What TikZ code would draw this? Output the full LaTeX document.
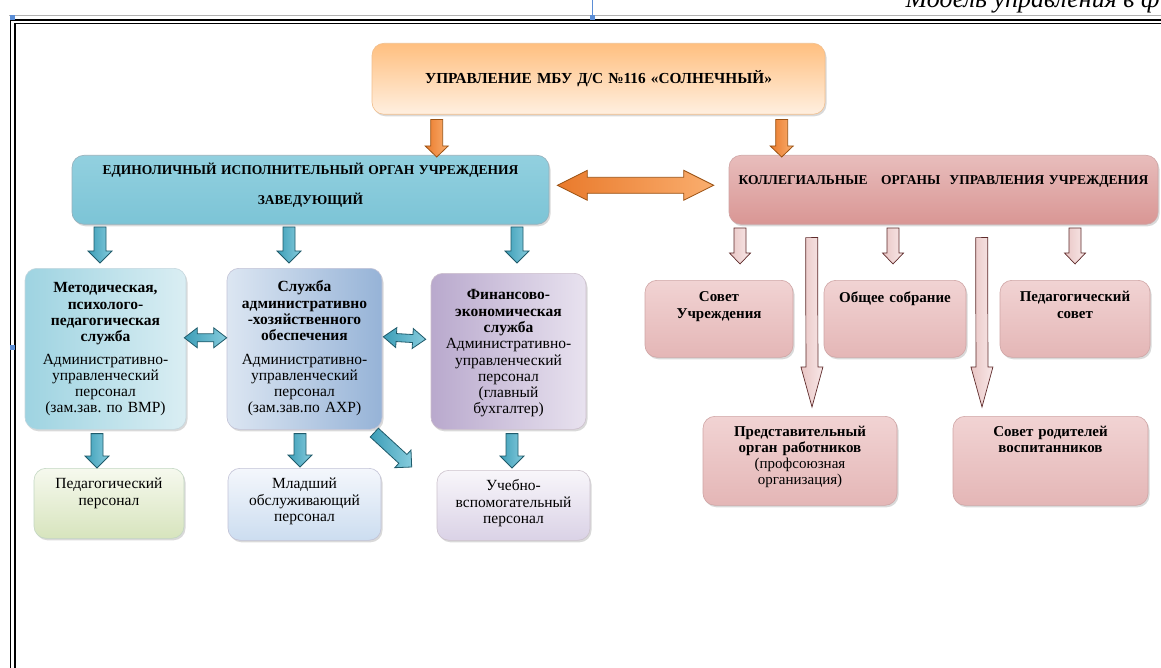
\documentclass[tikz,border=0pt]{standalone}
\usepackage{fontspec}
\setmainfont{Liberation Serif}
\usepackage{tikz}
\usetikzlibrary{calc}
\usetikzlibrary{shadows}
\usetikzlibrary{positioning}
\frenchspacing
\definecolor{orleft}{HTML}{E97A2C}
\definecolor{orright}{HTML}{FAAE6E}
\definecolor{ordraw}{HTML}{9A5214}
\definecolor{blleft}{HTML}{3C9DB7}
\definecolor{blright}{HTML}{86CCDD}
\definecolor{bldraw}{HTML}{1F5A6A}
\definecolor{pkleft}{HTML}{E9C6C5}
\definecolor{pkright}{HTML}{F8E8E8}
\definecolor{pkdraw}{HTML}{5E2B2B}
\definecolor{handle}{HTML}{5B8ED6}
\definecolor{pinktop}{HTML}{F1D3D3}
\definecolor{pinkmid}{HTML}{FBF0F0}
\definecolor{pinkbot}{HTML}{E4B6B6}
\definecolor{pinkline}{HTML}{CFA5A5}
\tikzset{barw/.store in=\barw, barh/.store in=\barh, barl/.store in=\barl,
         barw=6pt, barh=12pt, barl=12pt,
         barrow/.style = {to path={($(\tikztostart)!\barw!-90:(\tikztotarget)$)
             -- ($(\tikztotarget)!\barl!(\tikztostart)!\barw!90:(\tikztostart)$)
             -- ($(\tikztotarget)!\barl!(\tikztostart)!\barh!90:(\tikztostart)$)
             -- (\tikztotarget)
             -- ($(\tikztotarget)!\barl!(\tikztostart)!\barh!-90:(\tikztostart)$)
             -- ($(\tikztotarget)!\barl!(\tikztostart)!\barw!-90:(\tikztostart)$)
             -- ($(\tikztostart)!\barw!90:(\tikztotarget)$) -- cycle}},
         dbarrow/.style = {to path={(\tikztostart)
             -- ($(\tikztostart)!\barl!(\tikztotarget)!\barh!90:(\tikztotarget)$)
             -- ($(\tikztostart)!\barl!(\tikztotarget)!\barw!90:(\tikztotarget)$)
             -- ($(\tikztotarget)!\barl!(\tikztostart)!\barw!-90:(\tikztostart)$)
             -- ($(\tikztotarget)!\barl!(\tikztostart)!\barh!-90:(\tikztostart)$)
             -- (\tikztotarget)
             -- ($(\tikztotarget)!\barl!(\tikztostart)!\barh!90:(\tikztostart)$)
             -- ($(\tikztotarget)!\barl!(\tikztostart)!\barw!90:(\tikztostart)$)
             -- ($(\tikztostart)!\barl!(\tikztotarget)!\barw!-90:(\tikztotarget)$)
             -- ($(\tikztostart)!\barl!(\tikztotarget)!\barh!-90:(\tikztotarget)$) -- cycle}},
         orarrow/.style = {barrow, draw=ordraw, line width=0.8pt, left color=orleft, right color=orright},
         blarrow/.style = {barrow, draw=bldraw, line width=0.8pt, left color=blleft, right color=blright},
         pkarrow/.style = {barrow, draw=pkdraw, line width=0.7pt, left color=pkleft, right color=pkright},
         orgbox/.style = {draw=#1, line width=0.6pt, rounded corners=12pt, align=center,
                          anchor=north, inner xsep=4pt, inner ysep=0pt,
                          font=\fontsize{15.5}{16.3}\selectfont,
                          drop shadow={shadow xshift=1.5pt, shadow yshift=-2pt, opacity=0.3}},
         headbox/.style = {orgbox=#1, font=\fontsize{13.5}{16}\selectfont\bfseries},
         kolbox/.style = {orgbox=pinkline, top color=pinktop, middle color=pinkmid, bottom color=pinkbot}}

\begin{document}
\begin{tikzpicture}[x=1pt, y=-1pt]
  \useasboundingbox (0,0) rectangle (1161,668);
  \clip (0,0) rectangle (1161,668);
  % page frame
  \draw [gray!60, line width=0.8pt] (9,15.7) -- (1161,15.7);
  \draw [line width=1.8pt] (10.5,668) -- (10.5,19.8) -- (1161,19.8);
  \draw [line width=1.2pt] (15,668) -- (15,23.3) -- (1161,23.3);
  \node [anchor=base west, font=\fontsize{26}{28}\selectfont\itshape] (title) at (902,8) {Модель управления в ф};
  \draw [handle, line width=0.6pt] (592,0) -- (592,18);
  \fill [handle] (9.5,15.5) rectangle (14.5,20.5);
  \fill [handle] (589.5,15.5) rectangle (594.5,20.5);
  \fill [handle] (9.5,344.5) rectangle (14.5,349.5);

  % top level
  \node [headbox=orange!55!brown!50, top color=orange!50!white, bottom color=orange!12!white,
         font=\fontsize{15.3}{16}\selectfont\bfseries,
         text width=445pt, text height=40pt, text depth=31pt] (upr) at (598.5,43)
        {УПРАВЛЕНИЕ МБУ Д/С №116 «СОЛНЕЧНЫЙ»};
  \node [headbox={cyan!40!black!50}, top color={rgb,255:red,146;green,208;blue,223}, middle color={rgb,255:red,75;green,172;blue,198},
         bottom color={rgb,255:red,124;green,196;blue,214},
         text width=469pt, text height=19.5pt, text depth=49.5pt] (ed) at (310.5,155)
        {ЕДИНОЛИЧНЫЙ ИСПОЛНИТЕЛЬНЫЙ ОРГАН УЧРЕЖДЕНИЯ\\[14pt] ЗАВЕДУЮЩИЙ};
  \node [headbox=pinkline, top color={rgb,255:red,232;green,189;blue,188}, middle color={rgb,255:red,245;green,227;blue,227},
         bottom color={rgb,255:red,217;green,150;blue,148},
         text width=421pt, text height=29.5pt, text depth=39.5pt] (kol) at (943.5,155)
        {КОЛЛЕГИАЛЬНЫЕ \ \ ОРГАНЫ \ УПРАВЛЕНИЯ УЧРЕЖДЕНИЯ};

  % left services
  \node [orgbox=cyan!30!gray!40, left color={rgb,255:red,158;green,211;blue,225}, right color={rgb,255:red,218;green,238;blue,243},
         text width=153pt, text height=24.5pt, text depth=136.5pt] (met) at (105.5,268)
        {\textbf{Методическая,}\\ \textbf{психолого-}\\ \textbf{педагогическая}\\ \textbf{служба}\\[6pt]
         Административно-\\ управленческий\\ персонал\\ (зам.зав. по ВМР)};
  \node [orgbox=blue!20!gray!40, left color={rgb,255:red,220;green,230;blue,242}, right color={rgb,255:red,150;green,179;blue,215},
         text width=147pt, text height=23.5pt, text depth=137.5pt] (axo) at (304.5,268)
        {\textbf{Служба}\\ \textbf{административно}\\ \textbf{-хозяйственного}\\ \textbf{обеспечения}\\[7pt]
         Административно-\\ управленческий\\ персонал\\ (зам.зав.по АХР)};
  \node [orgbox=violet!25!gray!40, left color={rgb,255:red,185;green,169;blue,205}, right color={rgb,255:red,232;green,226;blue,239},
         text width=147pt, text height=26.5pt, text depth=129.5pt] (fin) at (508.5,273)
        {\textbf{Финансово-}\\ \textbf{экономическая}\\ \textbf{служба}\\
         Административно-\\ управленческий\\ персонал\\ (главный\\ бухгалтер)};

  \node [orgbox=green!20!gray!40, top color={rgb,255:red,246;green,249;blue,238}, bottom color={rgb,255:red,215;green,228;blue,189},
         text width=142pt, text height=20.5pt, text depth=49.5pt] (ped) at (109,468)
        {Педагогический\\ персонал};
  \node [orgbox=blue!20!gray!40, top color={rgb,255:red,244;green,247;blue,252}, bottom color={rgb,255:red,204;green,221;blue,240},
         text width=145pt, text height=20.5pt, text depth=51.5pt] (mla) at (304.5,468)
        {Младший\\ обслуживающий\\ персонал};
  \node [orgbox=violet!20!gray!40, top color={rgb,255:red,248;green,246;blue,250}, bottom color={rgb,255:red,218;green,210;blue,230},
         text width=145pt, text height=20.5pt, text depth=49.5pt] (uch) at (513.5,470)
        {Учебно-\\ вспомогательный\\ персонал};

  % right collegial bodies
  \node [kolbox, font=\fontsize{15}{16.3}\selectfont\bfseries,
         text width=140pt, text height=21.5pt, text depth=55.5pt] (sov) at (719,280)
        {Совет\\ Учреждения};
  \node [kolbox, font=\fontsize{15}{16.3}\selectfont\bfseries,
         text width=134pt, text height=22.5pt, text depth=54.5pt] (obs) at (895,280)
        {Общее собрание};
  \node [kolbox, font=\fontsize{15}{16.3}\selectfont\bfseries,
         text width=142pt, text height=21.5pt, text depth=55.5pt] (pso) at (1075,280)
        {Педагогический\\ совет};
  \node [kolbox, font=\fontsize{15}{16}\selectfont,
         text width=186pt, text height=20pt, text depth=69pt] (pred) at (800,416)
        {\textbf{Представительный}\\ \textbf{орган работников}\\ (профсоюзная\\ организация)};
  \node [kolbox, font=\fontsize{15}{16.3}\selectfont\bfseries,
         text width=187pt, text height=20pt, text depth=69pt] (rod) at (1050.5,416)
        {Совет родителей\\ воспитанников};

  % arrow ends
  \coordinate (o1a) at ($(upr.south west)+(65,5)$);
  \coordinate (o1b) at ($(ed.north west)+(365,2)$);
  \coordinate (o2a) at ($(upr.south west)+(410,5)$);
  \coordinate (o2b) at ($(kol.north west)+(53,2)$);
  \coordinate (d1) at ($(ed.east)+(8,-4.5)$);
  \coordinate (d2) at ($(kol.west)+(-15,-4.5)$);
  \draw [orarrow, barw=6pt, barh=11.5pt, barl=11pt] (o1a) to (o1b);
  \draw [orarrow, barw=6pt, barh=11.5pt, barl=11pt] (o2a) to (o2b);
  \draw [orarrow, dbarrow, barw=8pt, barh=15pt, barl=30pt] (d1) to (d2);

  \foreach \bx/\nd in {100/met, 289/axo, 517/fin}
    {
      \coordinate (b\nd a) at (\bx,227);
      \coordinate (b\nd b) at (\bx,263);
      \draw [blarrow, barw=6pt, barh=12pt, barl=12pt] (b\nd a) to (b\nd b);
    }
  \coordinate (h1) at ($(met.east)+(-2,-11)$);
  \coordinate (h2) at ($(axo.west)+(0,-11)$);
  \coordinate (h3) at ($(axo.east)+(1,-12)$);
  \coordinate (h4) at ($(fin.west)+(-5,-12)$);
  \draw [blarrow, dbarrow, barw=4pt, barh=10pt, barl=13pt] (h1) to (h2);
  \draw [blarrow, dbarrow, barw=4pt, barh=10pt, barl=13pt] (h3) to (h4);
  \coordinate (v1a) at ($(met.south)+(-8.5,4)$);
  \coordinate (v1b) at ($(ped.north)+(-12,0)$);
  \coordinate (v2a) at ($(axo.south)+(-4.5,4)$);
  \coordinate (v2b) at ($(mla.north)+(-4.5,-1)$);
  \coordinate (v3a) at ($(fin.south)+(3.5,4)$);
  \coordinate (v3b) at ($(uch.north)+(-1.5,-2)$);
  \coordinate (v4a) at ($(axo.south east)+(-8,3)$);
  \coordinate (v4b) at ($(uch.north west)+(-25,-3)$);
  \draw [blarrow, barw=6pt, barh=12pt, barl=12pt] (v1a) to (v1b);
  \draw [blarrow, barw=6pt, barh=12pt, barl=12pt] (v2a) to (v2b);
  \draw [blarrow, barw=6pt, barh=12pt, barl=12pt] (v3a) to (v3b);
  \draw [blarrow, barw=6pt, barh=12pt, barl=12pt] (v4a) to (v4b);

  \foreach \px/\nd in {740/sov, 893/obs, 1075/pso}
    {
      \coordinate (p\nd a) at (\px,228);
      \coordinate (p\nd b) at (\px,264);
      \draw [pkarrow, barw=6pt, barh=10.5pt, barl=11pt] (p\nd a) to (p\nd b);
    }
  \coordinate (l1a) at ($(kol.south west)+(83,13)$);
  \coordinate (l1b) at ($(pred.north)+(12,-9)$);
  \coordinate (l2a) at ($(kol.south west)+(253,13)$);
  \coordinate (l2b) at ($(rod.north)+(-68.5,-9)$);
  \draw [pkarrow, barw=6pt, barh=11pt, barl=40pt] (l1a) to (l1b);
  \draw [pkarrow, barw=6pt, barh=11pt, barl=40pt] (l2a) to (l2b);
\end{tikzpicture}
\end{document}
